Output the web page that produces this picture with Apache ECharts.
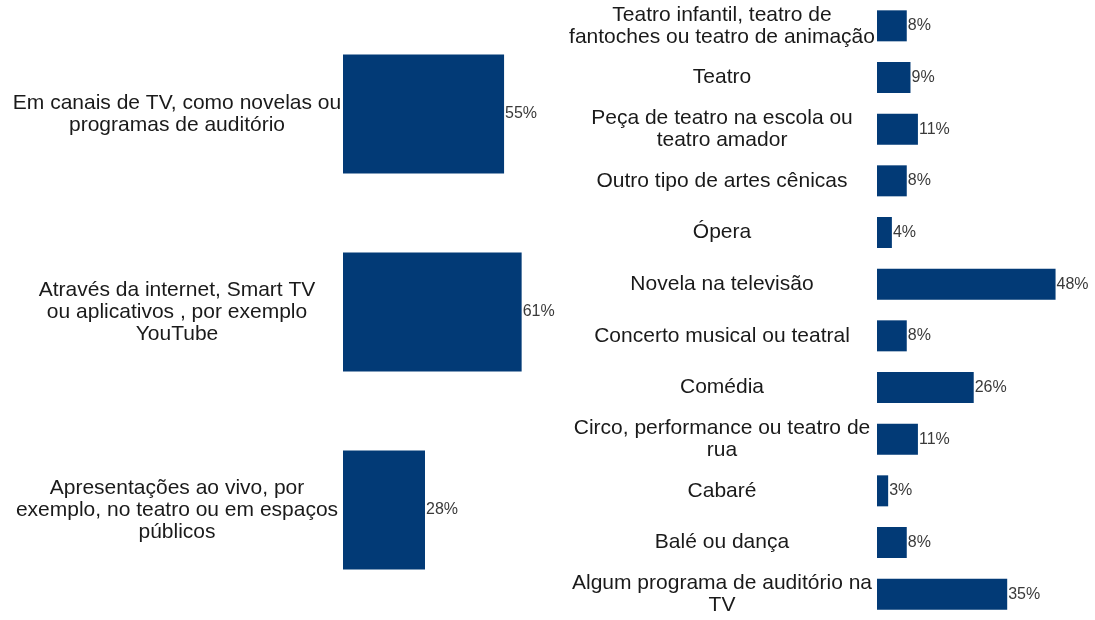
<!DOCTYPE html>
<html>
<head>
<meta charset="utf-8">
<script src="https://cdn.jsdelivr.net/npm/echarts@6/dist/echarts.min.js"></script>
<style>
  html, body { margin: 0; padding: 0; background: #fff; }
  #chart-container { width: 1095px; height: 620px; }
</style>
</head>
<body>
<div id="chart-container"></div>
<script>
// left: where people watch performing arts
let canaisCategories = [
  'Em canais de TV, como novelas ou\nprogramas de auditório',
  'Através da internet, Smart TV\nou aplicativos , por exemplo\nYouTube',
  'Apresentações ao vivo, por\nexemplo, no teatro ou em espaços\npúblicos'
];
let canaisValues = [55, 61, 28];

// right: types of performance
let tiposCategories = [
  'Teatro infantil, teatro de\nfantoches ou teatro de animação',
  'Teatro',
  'Peça de teatro na escola ou\nteatro amador',
  'Outro tipo de artes cênicas',
  'Ópera',
  'Novela na televisão',
  'Concerto musical ou teatral',
  'Comédia',
  'Circo, performance ou teatro de\nrua',
  'Cabaré',
  'Balé ou dança',
  'Algum programa de auditório na\nTV'
];
let tiposValues = [8, 9, 11, 8, 4, 48, 8, 26, 11, 3, 8, 35];

function init() {
  const barColor = '#023a76';
  const font = '"Liberation Sans", Arial, sans-serif';

  function buildSeries(index, data) {
    return {
      type: 'bar',
      xAxisIndex: index,
      yAxisIndex: index,
      barCategoryGap: '40%',
      itemStyle: { color: barColor },
      label: {
        show: true,
        position: 'right',
        distance: 1,
        formatter: '{c}%',
        fontFamily: font,
        fontSize: 16,
        color: '#3a3a3a'
      },
      silent: true,
      data
    };
  }

  function buildYAxis(index, categories, margin) {
    return {
      type: 'category',
      gridIndex: index,
      inverse: true,
      data: categories,
      axisLine: { show: false },
      axisTick: { show: false },
      splitLine: { show: false },
      axisLabel: {
        align: 'center',
        margin,
        fontFamily: font,
        fontSize: 21,
        lineHeight: 22,
        color: '#1a1a1a'
      }
    };
  }

  let option = {
    animation: false,
    grid: [
      { left: 343, top: 15, width: 205, height: 594 },
      { left: 877, top: 0, width: 186, height: 623 }
    ],
    xAxis: [
      { type: 'value', gridIndex: 0, min: 0, max: 70, show: false },
      { type: 'value', gridIndex: 1, min: 0, max: 50, show: false }
    ],
    yAxis: [
      buildYAxis(0, canaisCategories, 166),
      buildYAxis(1, tiposCategories, 155)
    ],
    series: [
      buildSeries(0, canaisValues),
      buildSeries(1, tiposValues)
    ]
  };

  var myChart = echarts.init(document.getElementById('chart-container'));
  myChart.setOption(option);
  window.addEventListener('resize', myChart.resize);
}
init();
</script>
</body>
</html>
